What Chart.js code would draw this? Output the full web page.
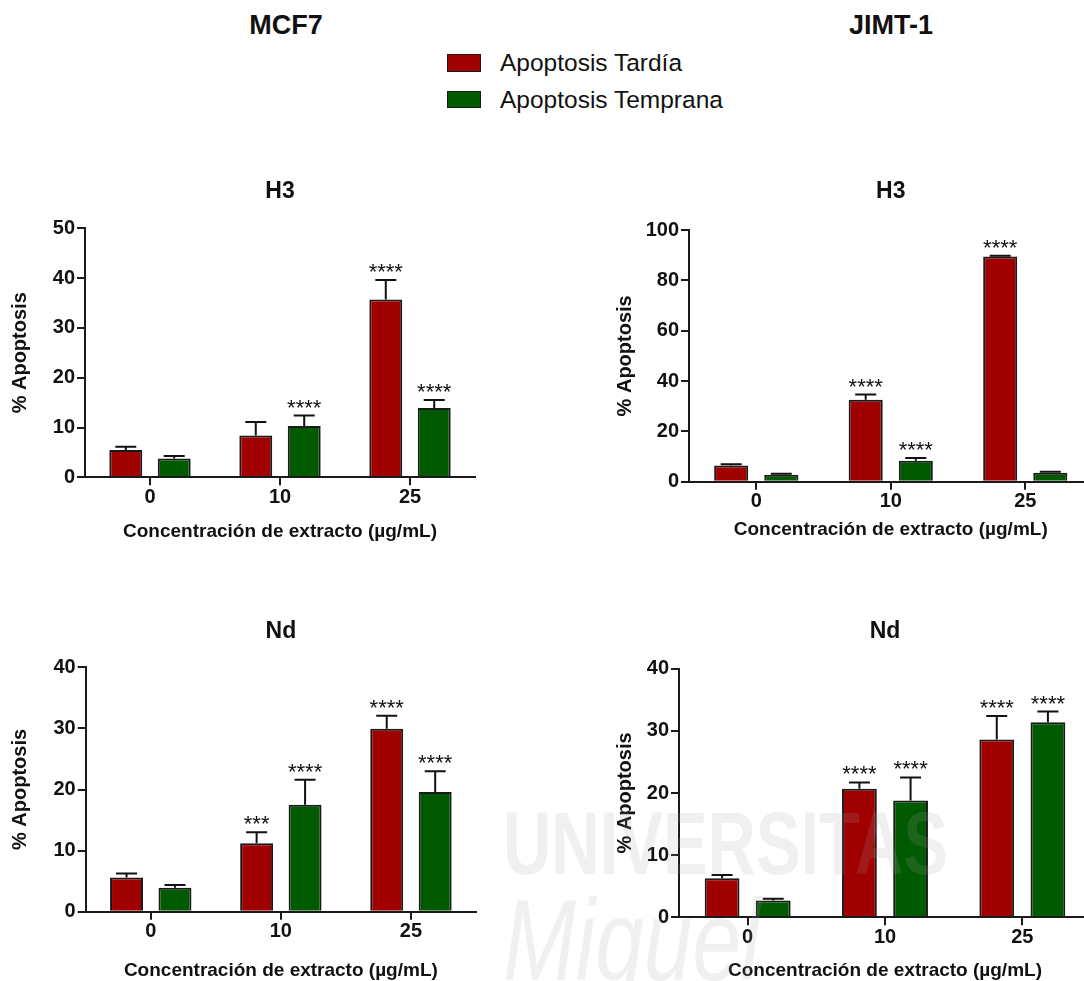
<!DOCTYPE html>
<html>
<head>
<meta charset="utf-8">
<script src="https://cdn.jsdelivr.net/npm/chart.js@4.4.1/dist/chart.umd.min.js"></script>
<style>
  html, body { margin: 0; padding: 0; width: 1084px; height: 981px; overflow: hidden; background: #fff; }
  body { position: relative; font-family: 'Liberation Sans', Arial, Helvetica, sans-serif; color: #111; }
  canvas { position: absolute; }
  .head { position: absolute; font-weight: bold; font-size: 27px; line-height: 30px; white-space: nowrap; transform: translateX(-50%); }
  .leg-swatch { position: absolute; border: 1.5px solid #1a1a1a; box-sizing: border-box; }
  .leg-text { position: absolute; font-size: 24.5px; line-height: 28px; white-space: nowrap; }
  .wm { position: absolute; white-space: nowrap; color: rgba(160,160,160,0.16); pointer-events: none; transform-origin: 0 0; z-index: 5; }
</style>
</head>
<body>
<div class="head" style="left:286px; top:10.4px;">MCF7</div>
<div class="head" style="left:891px; top:10.4px;">JIMT-1</div>
<div id="legend"></div>

<canvas id="mcf7H3" width="540" height="385" style="left:0px; top:165px;"></canvas>
<canvas id="jimtH3" width="540" height="385" style="left:560px; top:165px;"></canvas>
<canvas id="mcf7Nd" width="540" height="395" style="left:0px; top:600px;"></canvas>
<canvas id="jimtNd" width="540" height="395" style="left:560px; top:600px;"></canvas>

<div class="wm" style="left:503px; top:793px; font-size:89px; line-height:100px; font-weight:bold; transform:scaleX(0.752);">UNIVERSITAS</div>
<div class="wm" style="left:503px; top:880px; font-size:115px; line-height:120px; font-style:italic; transform:scaleX(0.76);">Miguel</div>

<script>
// ---- data -------------------------------------------------------------
const categories = ['0', '10', '25'];
const seriesNames = ['Apoptosis Tardía', 'Apoptosis Temprana'];
const seriesColors = ['#a00000', '#005a00'];

// MCF7 – H3
const mcf7H3Tardia      = [5.5, 8.4, 35.7];
const mcf7H3TardiaErr   = [0.65, 2.7, 3.9];
const mcf7H3TardiaSig   = ['', '', '****'];
const mcf7H3Temprana    = [3.8, 10.3, 13.9];
const mcf7H3TempranaErr = [0.5, 2.1, 1.6];
const mcf7H3TempranaSig = ['', '****', '****'];

// JIMT-1 – H3
const jimtH3Tardia      = [6.4, 32.6, 89.5];
const jimtH3TardiaErr   = [0.5, 2.0, 0.3];
const jimtH3TardiaSig   = ['', '****', '****'];
const jimtH3Temprana    = [2.8, 8.3, 3.6];
const jimtH3TempranaErr = [0.4, 1.1, 0.4];
const jimtH3TempranaSig = ['', '****', ''];

// MCF7 – Nd
const mcf7NdTardia      = [5.6, 11.2, 29.95];
const mcf7NdTardiaErr   = [0.65, 1.8, 2.1];
const mcf7NdTardiaSig   = ['', '***', '****'];
const mcf7NdTemprana    = [3.9, 17.5, 19.6];
const mcf7NdTempranaErr = [0.45, 4.1, 3.4];
const mcf7NdTempranaSig = ['', '****', '****'];

// JIMT-1 – Nd
const jimtNdTardia      = [6.3, 20.7, 28.6];
const jimtNdTardiaErr   = [0.5, 1.0, 3.8];
const jimtNdTardiaSig   = ['', '****', '****'];
const jimtNdTemprana    = [2.7, 18.8, 31.4];
const jimtNdTempranaErr = [0.3, 3.7, 1.7];
const jimtNdTempranaSig = ['', '****', '****'];

const yTicksH3Mcf7 = { max: 50, step: 10 };
const yTicksH3Jimt = { max: 100, step: 20 };
const yTicksNd     = { max: 40, step: 10 };

const xAxisTitle = 'Concentración de extracto (\u00b5g/mL)';
const yAxisTitle = '% Apoptosis';

// ---- shared style -----------------------------------------------------
const FONT = "'Liberation Sans', Arial, Helvetica, sans-serif";
const INK = '#111111';
const AXIS = '#1a1a1a';
const TITLE_SIZE = 23, X_TITLE_SIZE = 19, Y_TITLE_SIZE = 20, TICK_SIZE = 20;

// shared legend
(function buildLegend() {
  const host = document.getElementById('legend');
  const swTops = [54, 90.7], txtTops = [49.2, 85.8];
  seriesNames.forEach((name, i) => {
    const sw = document.createElement('div');
    sw.className = 'leg-swatch';
    sw.style.cssText = `left:446.7px; top:${swTops[i]}px; width:34.3px; height:17.7px; background:${seriesColors[i]};`;
    host.appendChild(sw);
    const tx = document.createElement('div');
    tx.className = 'leg-text';
    tx.style.cssText = `left:500px; top:${txtTops[i]}px;`;
    tx.textContent = name;
    host.appendChild(tx);
  });
})();

// one-sided (upper) error bars plus significance asterisks
const errorBarPlugin = {
  id: 'errorBars',
  afterDatasetsDraw(chart) {
    const ctx = chart.ctx;
    const yScale = chart.scales.y;
    chart.data.datasets.forEach((ds, di) => {
      const meta = chart.getDatasetMeta(di);
      meta.data.forEach((bar, i) => {
        const v = ds.data[i];
        const e = ds.errors[i];
        const x = bar.x;
        const yTop = yScale.getPixelForValue(v + e);
        ctx.save();
        ctx.strokeStyle = INK;
        ctx.lineWidth = 2;
        ctx.beginPath();
        ctx.moveTo(x, bar.y);
        ctx.lineTo(x, yTop);
        ctx.moveTo(x - 10.5, yTop);
        ctx.lineTo(x + 10.5, yTop);
        ctx.stroke();
        const sig = ds.sig[i];
        if (sig) {
          ctx.fillStyle = INK;
          ctx.font = `22px ${FONT}`;
          ctx.textAlign = 'center';
          ctx.textBaseline = 'alphabetic';
          ctx.fillText(sig, x, yTop - 1);
        }
        ctx.restore();
      });
    });
  }
};

function panel(id, spec) {
  const { box, area, titleText, titleY, xTitleY, yTitleX, yTicks, series } = spec;
  const lhT = TITLE_SIZE * 1.2, lhX = X_TITLE_SIZE * 1.2, lhY = Y_TITLE_SIZE * 1.2;
  const titlePadTop = (titleY - box.top) - lhT / 2;
  const titlePadBottom = (area.t - box.top) - lhT - titlePadTop;
  const xHeight = box.top + box.height - area.b;
  const xTitlePadBottom = (box.top + box.height) - xTitleY - lhX / 2;
  const yWidth = area.l - box.left;
  const yTitlePadTop = (yTitleX - box.left) - lhY / 2;
  const padRight = box.left + box.width - area.r;

  return new Chart(document.getElementById(id), {
    type: 'bar',
    data: {
      labels: categories,
      datasets: series.map((s, k) => ({
        label: seriesNames[k],
        data: s.values,
        errors: s.errors,
        sig: s.sig,
        backgroundColor: seriesColors[k],
        borderColor: AXIS,
        borderWidth: 2,
        barPercentage: 0.68,
        categoryPercentage: 0.745
      }))
    },
    options: {
      responsive: false,
      animation: false,
      events: [],
      layout: { padding: { left: 0, top: 0, right: padRight, bottom: 0 } },
      plugins: {
        legend: { display: false },
        tooltip: { enabled: false },
        title: {
          display: true,
          text: titleText,
          fullSize: false,
          color: INK,
          font: { family: FONT, size: TITLE_SIZE, weight: 'bold', lineHeight: 1.2 },
          padding: { top: titlePadTop, bottom: titlePadBottom }
        }
      },
      scales: {
        x: {
          type: 'category',
          offset: true,
          grid: { display: true, offset: false, drawOnChartArea: false, drawTicks: true, tickLength: 8, color: AXIS, lineWidth: 2 },
          border: { display: true, color: AXIS, width: 2 },
          ticks: { color: INK, padding: 0, font: { family: FONT, size: TICK_SIZE, weight: 'bold', lineHeight: 1.2 } },
          title: {
            display: true, text: xAxisTitle, color: INK,
            font: { family: FONT, size: X_TITLE_SIZE, weight: 'bold', lineHeight: 1.2 },
            padding: { top: 0, bottom: xTitlePadBottom }
          },
          afterFit(s) { s.height = xHeight; }
        },
        y: {
          min: 0,
          max: yTicks.max,
          grid: { display: true, drawOnChartArea: false, drawTicks: true, tickLength: 8, color: AXIS, lineWidth: 2 },
          border: { display: true, color: AXIS, width: 2 },
          ticks: { stepSize: yTicks.step, color: INK, padding: 2, font: { family: FONT, size: TICK_SIZE, weight: 'bold', lineHeight: 1.2 } },
          title: {
            display: true, text: yAxisTitle, color: INK,
            font: { family: FONT, size: Y_TITLE_SIZE, weight: 'bold', lineHeight: 1.2 },
            padding: { top: yTitlePadTop, bottom: 0 }
          },
          afterFit(s) { s.width = yWidth; }
        }
      }
    },
    plugins: [errorBarPlugin]
  });
}

panel('mcf7H3', {
  box: { left: 0, top: 165, width: 540, height: 385 },
  area: { l: 85, t: 228.3, r: 475, b: 477.3 },
  titleText: 'H3', titleY: 191.7, xTitleY: 531.7, yTitleX: 20,
  yTicks: yTicksH3Mcf7,
  series: [
    { values: mcf7H3Tardia, errors: mcf7H3TardiaErr, sig: mcf7H3TardiaSig },
    { values: mcf7H3Temprana, errors: mcf7H3TempranaErr, sig: mcf7H3TempranaSig }
  ]
});

panel('jimtH3', {
  box: { left: 560, top: 165, width: 540, height: 385 },
  area: { l: 689, t: 230, r: 1092.5, b: 481.7 },
  titleText: 'H3', titleY: 191.7, xTitleY: 530, yTitleX: 625,
  yTicks: yTicksH3Jimt,
  series: [
    { values: jimtH3Tardia, errors: jimtH3TardiaErr, sig: jimtH3TardiaSig },
    { values: jimtH3Temprana, errors: jimtH3TempranaErr, sig: jimtH3TempranaSig }
  ]
});

panel('mcf7Nd', {
  box: { left: 0, top: 600, width: 540, height: 395 },
  area: { l: 85.7, t: 667.3, r: 476, b: 911.7 },
  titleText: 'Nd', titleY: 631.7, xTitleY: 971, yTitleX: 20,
  yTicks: yTicksNd,
  series: [
    { values: mcf7NdTardia, errors: mcf7NdTardiaErr, sig: mcf7NdTardiaSig },
    { values: mcf7NdTemprana, errors: mcf7NdTempranaErr, sig: mcf7NdTempranaSig }
  ]
});

panel('jimtNd', {
  box: { left: 560, top: 600, width: 540, height: 395 },
  area: { l: 679, t: 668.7, r: 1091, b: 917.3 },
  titleText: 'Nd', titleY: 631.7, xTitleY: 970.7, yTitleX: 625,
  yTicks: yTicksNd,
  series: [
    { values: jimtNdTardia, errors: jimtNdTardiaErr, sig: jimtNdTardiaSig },
    { values: jimtNdTemprana, errors: jimtNdTempranaErr, sig: jimtNdTempranaSig }
  ]
});
</script>
</body>
</html>
